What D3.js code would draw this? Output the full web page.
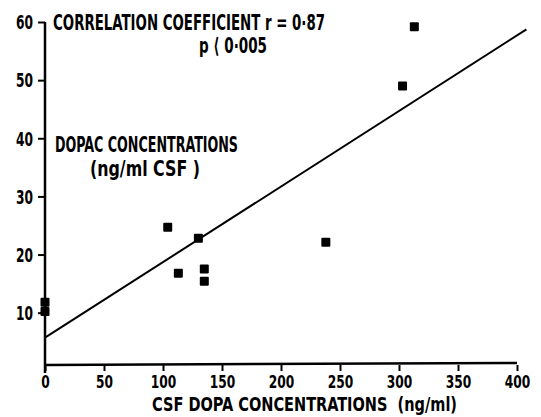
<!DOCTYPE html>
<html><head><meta charset="utf-8">
<script src="https://cdn.jsdelivr.net/npm/d3@7"></script>
<style>
body{margin:0;background:#fff;}
svg text{font-family:"DejaVu Sans Condensed","Liberation Sans Narrow",sans-serif;font-weight:bold;fill:#000;}
</style></head>
<body>
<script>
const xTicks = [0,50,100,150,200,250,300,350,400];
const yTicks = [10,20,30,40,50,60];
const dopa  = [0, 0, 104, 113, 130, 135, 135, 238, 303, 313];
const dopac = [11.8, 10.2, 24.7, 16.8, 22.8, 17.5, 15.4, 22.1, 49.0, 59.2];
const regression = {intercept: 5.7, slope: 0.130, xStart: 0, xEnd: 408};
const xTitle = "CSF DOPA CONCENTRATIONS  (ng/ml)";
const yTitle1 = "DOPAC CONCENTRATIONS";
const yTitle2 = "(ng/ml CSF )";
const corrText = "CORRELATION COEFFICIENT r = 0·87";
const pText = "p ⟨ 0·005";

const W = 541, H = 417;
const svg = d3.select("body").append("svg").attr("width", W).attr("height", H);

const x = d3.scaleLinear().domain([0,400]).range([45,517]);
const y = d3.scaleLinear().domain([1,60]).range([365,22]);

const digitW = 8.5;

// Y axis
const yAxis = d3.axisLeft(y).tickValues(yTicks).tickSize(7).tickPadding(5).tickFormat(d3.format("d"));
const gy = svg.append("g").attr("transform",`translate(${x(0)},0)`).call(yAxis);
gy.select(".domain").remove();
gy.append("line").attr("x1",0).attr("x2",0).attr("y1",y(60)).attr("y2",373).attr("stroke","#000").attr("stroke-width",2.5);
gy.selectAll(".tick line").attr("stroke","#000").attr("stroke-width",2);
gy.selectAll(".tick text").style("font-size","19px").attr("dy","0.36em")
  .attr("textLength",d=>String(d).length*digitW).attr("lengthAdjust","spacingAndGlyphs");

// X axis
const xAxis = d3.axisBottom(x).tickValues(xTicks).tickSize(6).tickPadding(5).tickFormat(d3.format("d"));
const gx = svg.append("g").attr("transform",`translate(0,${y(1)})`).call(xAxis);
gx.select(".domain").remove();
gx.append("line").attr("x1",x(0)).attr("x2",x(400)).attr("y1",0).attr("y2",-2).attr("stroke","#000").attr("stroke-width",2.5);
gx.selectAll(".tick line").attr("stroke","#000").attr("stroke-width",2);
gx.selectAll(".tick text").style("font-size","17px")
  .attr("textLength",d=>String(d).length*digitW).attr("lengthAdjust","spacingAndGlyphs");

// regression line
svg.append("line")
  .attr("x1",x(regression.xStart)).attr("y1",y(regression.intercept + regression.slope*regression.xStart))
  .attr("x2",x(regression.xEnd)).attr("y2",y(regression.intercept + regression.slope*regression.xEnd))
  .attr("stroke","#000").attr("stroke-width",2);

// points
const s = 9;
svg.append("g").selectAll("rect").data(dopa.map((d,i)=>[d,dopac[i]])).join("rect")
  .attr("x",d=>x(d[0])-s/2).attr("y",d=>y(d[1])-s/2)
  .attr("width",s).attr("height",s).attr("rx",1).attr("fill","#000");

// texts
const fs = "21px";
svg.append("text").attr("x",53).attr("y",30).style("font-size",fs).attr("textLength",272).attr("lengthAdjust","spacingAndGlyphs").text(corrText);
svg.append("text").attr("x",199).attr("y",53).style("font-size",fs).attr("textLength",68).attr("lengthAdjust","spacingAndGlyphs").text(pText);
svg.append("text").attr("x",55).attr("y",152).style("font-size",fs).attr("textLength",183).attr("lengthAdjust","spacingAndGlyphs").text(yTitle1);
svg.append("text").attr("x",90).attr("y",176).style("font-size",fs).attr("textLength",110).attr("lengthAdjust","spacingAndGlyphs").text(yTitle2);
svg.append("text").attr("x",152).attr("y",411).style("font-size","19px").attr("textLength",305).attr("lengthAdjust","spacingAndGlyphs").attr("xml:space","preserve").text(xTitle);
</script>
</body></html>
